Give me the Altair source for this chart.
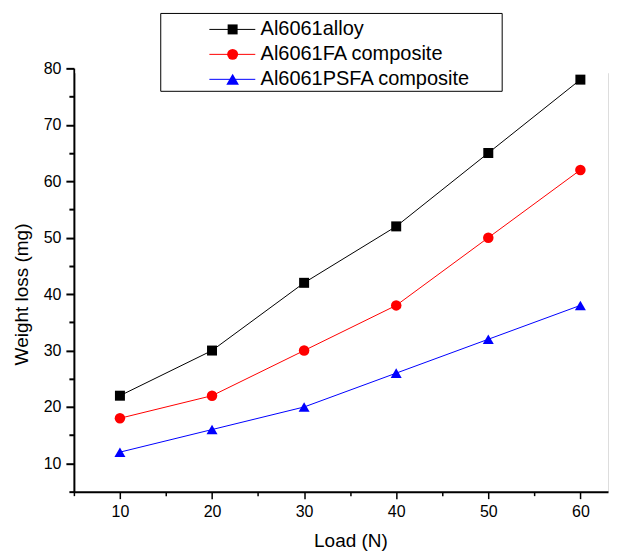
import altair as alt
import pandas as pd

FONT = "Liberation Sans"

LOAD = [10, 20, 30, 40, 50, 60]
SERIES = ["Al6061alloy", "Al6061FA composite", "Al6061PSFA composite"]
ALLOY = [22, 30, 42, 52, 65, 78]
FA = [18, 22, 30, 38, 50, 62]
PSFA = [12, 16, 20, 26, 32, 38]
COLORS = ["#000000", "#ff0000", "#0000ff"]
SHAPES = ["square", "circle", "triangle-up"]
SIZES = [100, 121, 160]
X_MAJOR = [10, 20, 30, 40, 50, 60]
X_MINOR = [5, 15, 25, 35, 45, 55]
Y_MAJOR = [10, 20, 30, 40, 50, 60, 70, 80]
Y_MINOR = [5, 15, 25, 35, 45, 55, 65, 75]

PLOT_W = 535
PLOT_H = 424

rows = []
for name, vals in zip(SERIES, [ALLOY, FA, PSFA]):
    for l, v in zip(LOAD, vals):
        rows.append({"series": name, "load": l, "loss": v})
df = pd.DataFrame(rows)

color = alt.Color("series:N", scale=alt.Scale(domain=SERIES, range=COLORS), legend=None)
shape = alt.Shape("series:N", scale=alt.Scale(domain=SERIES, range=SHAPES), legend=None)
size = alt.Size("series:N", scale=alt.Scale(domain=SERIES, range=SIZES), legend=None)

xscale = alt.Scale(domain=[5, 63], nice=False, zero=False)
yscale = alt.Scale(domain=[5, 80], nice=False, zero=False)

x_major = alt.X(
    "load:Q",
    title="Load (N)",
    scale=xscale,
    axis=alt.Axis(
        orient="bottom",
        values=X_MAJOR,
        tickSize=7,
        tickWidth=1.5,
        tickColor="black",
        domainWidth=2,
        domainColor="black",
        grid=False,
        labelFont=FONT,
        labelFontSize=16,
        labelColor="black",
        labelPadding=5,
        titleFont=FONT,
        titleFontSize=19,
        titleFontWeight="normal",
        titleColor="black",
        titlePadding=12,
        titleX=277,
    ),
)
y_major = alt.Y(
    "loss:Q",
    title="Weight loss (mg)",
    scale=yscale,
    axis=alt.Axis(
        orient="left",
        values=Y_MAJOR,
        tickSize=8,
        tickWidth=2,
        tickColor="black",
        domainWidth=2,
        domainColor="black",
        grid=False,
        labelFont=FONT,
        labelFontSize=16,
        labelColor="black",
        labelPadding=5,
        titleFont=FONT,
        titleFontSize=19,
        titleFontWeight="normal",
        titleColor="black",
        titlePadding=12,
        titleY=226,
    ),
)
x_minor = alt.X(
    "load:Q",
    scale=xscale,
    axis=alt.Axis(
        orient="bottom", values=X_MINOR, labels=False, domain=False, grid=False,
        tickSize=4, tickWidth=1.5, tickColor="black", title="",
    ),
)
y_minor = alt.Y(
    "loss:Q",
    scale=yscale,
    axis=alt.Axis(
        orient="left", values=Y_MINOR, labels=False, domain=False, grid=False,
        tickSize=5, tickWidth=2, tickColor="black", title="",
    ),
)

base = alt.Chart(df)
lines = base.mark_line(strokeWidth=1).encode(x=x_major, y=y_major, color=color, detail="series:N")
minor = base.mark_point(opacity=0).encode(x=x_minor, y=y_minor)
points = base.mark_point(filled=True, opacity=1, strokeWidth=0).encode(
    x=alt.X("load:Q", scale=xscale, axis=None),
    y=alt.Y("loss:Q", scale=yscale, axis=None),
    color=color,
    shape=shape,
    size=size,
)

one = pd.DataFrame({"a": [0]})
# white strip over the open top edge of the plot area
top_cover = alt.Chart(one).mark_rect(fill="white", strokeWidth=0).encode(
    x=alt.value(1.5), x2=alt.value(PLOT_W + 6), y=alt.value(-8), y2=alt.value(5)
)
legend_layers = [
    alt.Chart(one).mark_rect(fill="white", stroke="black", strokeWidth=1).encode(
        x=alt.value(87), x2=alt.value(429), y=alt.value(-55), y2=alt.value(23)
    )
]
for i, (name, col, shp, sz) in enumerate(zip(SERIES, COLORS, SHAPES, SIZES)):
    row_y = -39 + 25 * i
    legend_layers.append(
        alt.Chart(one).mark_rule(strokeWidth=1, color=col).encode(
            x=alt.value(135.7), x2=alt.value(181.7), y=alt.value(row_y)
        )
    )
    legend_layers.append(
        alt.Chart(one).mark_point(filled=True, opacity=1, strokeWidth=0, color=col, shape=shp, size=sz).encode(
            x=alt.value(159), y=alt.value(row_y)
        )
    )
    legend_layers.append(
        alt.Chart(one).mark_text(
            align="left", baseline="middle", fontSize=20, font=FONT, color="black", text=name
        ).encode(x=alt.value(187), y=alt.value(row_y))
    )

chart = (
    alt.layer(lines, minor, top_cover, points, *legend_layers)
    .resolve_axis(x="independent", y="independent")
    .properties(width=PLOT_W, height=PLOT_H, padding={"left": 4, "top": 4, "right": 0, "bottom": 0})
    .configure_view(strokeWidth=0)
    .configure_axis(grid=False)
    .configure(font=FONT)
)

chart.save("out.html", embed_options={"renderer": "svg", "actions": False})
